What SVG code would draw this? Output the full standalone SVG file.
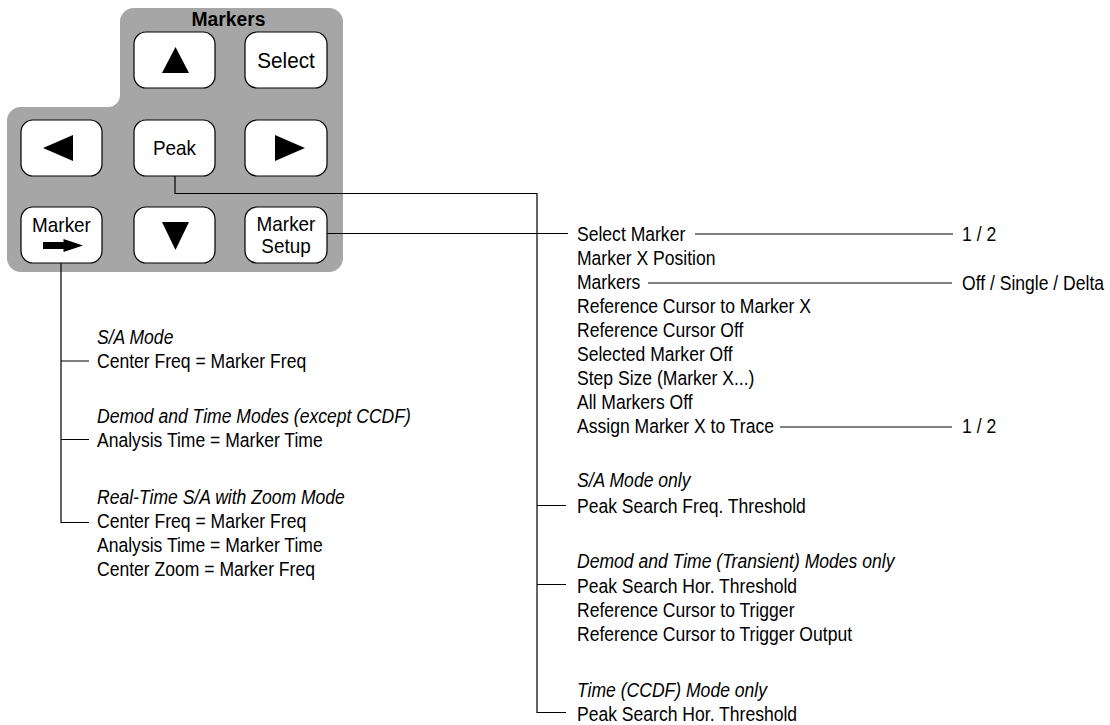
<svg xmlns="http://www.w3.org/2000/svg" width="1110" height="725" viewBox="0 0 1110 725">
<style>
text{font-family:"Liberation Sans",Arial,sans-serif;fill:#000}
.t{font-size:19.5px}
.i{font-size:19.5px;font-style:italic}
.b{font-size:21px;text-anchor:middle}
.h{font-size:21px;font-weight:bold;text-anchor:middle}
.btn{fill:#fff;stroke:#000;stroke-width:1.2}
.ln{fill:none;stroke:#000;stroke-width:1.2}
</style>
<g id="panel">
<path d="M134,8 H329 A14,14 0 0 1 343,22 V258 A14,14 0 0 1 329,272 H21 A14,14 0 0 1 7,258 V121 A14,14 0 0 1 21,107 H108 A12,12 0 0 0 120,95 V22 A14,14 0 0 1 134,8 Z" fill="#a6a6a6"/>
<text class="h" x="228.5" y="26.5" transform="matrix(0.92 0 0 1 18.28 0)">Markers</text>
</g>
<g id="btn-up"><rect class="btn" x="134" y="32" width="81" height="56" rx="12"/><polygon points="175.5,47 189,73 162,73"/></g>
<g id="btn-select"><rect class="btn" x="245" y="32" width="82" height="56" rx="12"/><text class="b" x="286" y="68" style="font-size:22px" transform="matrix(0.94 0 0 1 17.16 0)">Select</text></g>
<g id="btn-left"><rect class="btn" x="21" y="120" width="81" height="56" rx="12"/><polygon points="43,148 73,135 73,161"/></g>
<g id="btn-peak"><rect class="btn" x="134" y="120" width="81" height="56" rx="12"/><text class="b" x="174.5" y="155" transform="matrix(0.9 0 0 1 17.45 0)">Peak</text></g>
<g id="btn-right"><rect class="btn" x="245" y="120" width="82" height="56" rx="12"/><polygon points="305,148 275,135 275,161"/></g>
<g id="btn-marker"><rect class="btn" x="21" y="207" width="81" height="56" rx="12"/><text class="b" x="61.5" y="232.5" transform="matrix(0.9 0 0 1 6.15 0)">Marker</text><polygon points="43,242 63.5,242 63.5,239 83,245.5 63.5,252 63.5,249 43,249"/></g>
<g id="btn-down"><rect class="btn" x="134" y="207" width="81" height="56" rx="12"/><polygon points="162,222 189,222 175.5,250"/></g>
<g id="btn-setup"><rect class="btn" x="245" y="207" width="82" height="56" rx="12"/><g transform="matrix(0.9 0 0 1 28.6 0)"><text class="b" x="286" y="231.5">Marker</text><text class="b" x="286" y="253.5">Setup</text></g></g>
<g id="connectors">
<path class="ln" d="M61,263 V522.5 H89 M61,361 H89 M61,439.5 H89"/>
<path class="ln" d="M175,176 V193.5 H537 V712.5 H566 M537,505.5 H566 M537,584.5 H566"/>
<path class="ln" d="M327,233.5 H568"/>
<path class="ln" d="M695,234 H953"/>
<path class="ln" d="M648,283 H952"/>
<path class="ln" d="M780,427 H952"/>
</g>
<g id="marker-to-list" transform="matrix(0.9 0 0 1 9.7 0)">
<text class="i" x="97" y="344">S/A Mode</text>
<text class="t" x="97" y="368">Center Freq = Marker Freq</text>
<text class="i" x="97" y="423">Demod and Time Modes (except CCDF)</text>
<text class="t" x="97" y="447">Analysis Time = Marker Time</text>
<text class="i" x="97" y="504">Real-Time S/A with Zoom Mode</text>
<text class="t" x="97" y="528">Center Freq = Marker Freq</text>
<text class="t" x="97" y="552">Analysis Time = Marker Time</text>
<text class="t" x="97" y="576">Center Zoom = Marker Freq</text>
</g>
<g id="setup-list" transform="matrix(0.9 0 0 1 57.7 0)">
<text class="t" x="577" y="241.5">Select Marker</text>
<text class="t" x="577" y="265.4">Marker X Position</text>
<text class="t" x="577" y="289.3">Markers</text>
<text class="t" x="577" y="313.2">Reference Cursor to Marker X</text>
<text class="t" x="577" y="337.1">Reference Cursor Off</text>
<text class="t" x="577" y="361">Selected Marker Off</text>
<text class="t" x="577" y="384.9">Step Size (Marker X...)</text>
<text class="t" x="577" y="408.8">All Markers Off</text>
<text class="t" x="577" y="432.7">Assign Marker X to Trace</text>
</g>
<g id="options" transform="matrix(0.9 0 0 1 96.2 0)">
<g id="select-options"><text class="t" x="962" y="241.5">1 / 2</text></g>
<g id="markers-options"><text class="t" x="962" y="290">Off / Single / Delta</text></g>
<g id="trace-options"><text class="t" x="962" y="433.5">1 / 2</text></g>
</g>
<g id="peak-list" transform="matrix(0.9 0 0 1 57.7 0)">
<text class="i" x="577" y="486.7">S/A Mode only</text>
<text class="t" x="577" y="512.7">Peak Search Freq. Threshold</text>
<text class="i" x="577" y="568.3">Demod and Time (Transient) Modes only</text>
<text class="t" x="577" y="592.7">Peak Search Hor. Threshold</text>
<text class="t" x="577" y="616.7">Reference Cursor to Trigger</text>
<text class="t" x="577" y="641">Reference Cursor to Trigger Output</text>
<text class="i" x="577" y="696.7">Time (CCDF) Mode only</text>
<text class="t" x="577" y="721.5">Peak Search Hor. Threshold</text>
</g>
</svg>
